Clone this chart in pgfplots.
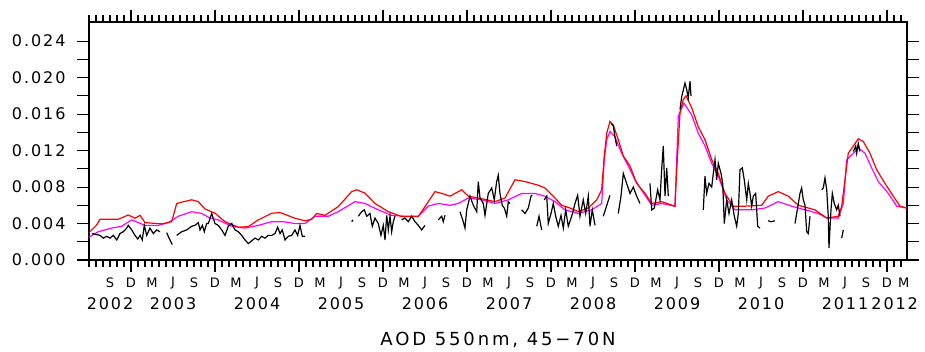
\documentclass[border=0pt]{standalone}
\usepackage{pgfplots}
\pgfplotsset{compat=1.18}
\usepackage{fontspec}
\setmainfont{DejaVu Sans}[LetterSpace=12]
\definecolor{mag}{RGB}{255,0,255}
\definecolor{rd}{RGB}{255,0,0}
\begin{document}
\begin{tikzpicture}
\begin{axis}[name=ax, at={(0,0)}, anchor=south west,
 scale only axis, width=818pt, height=238pt,
 xmin=5, xmax=121.86, ymin=0, ymax=0.0261,
 axis line style={line width=1.2pt},
 every tick/.style={black, line width=1.1pt},
 tick align=outside, tick pos=both,
 major tick length=12pt, minor tick length=7pt,
 xtick={11,23,35,47,59,71,83,95,107,119}, xticklabels={},
 minor xtick={5,6,...,121},
 extra x ticks={8,11,14,17,20,23,26,29,32,35,38,41,44,47,50,53,56,59,62,65,68,71,74,77,80,83,86,89,92,95,98,101,104,107,110,113,116,119,121.4},
 extra x tick labels={S,D,M,J,S,D,M,J,S,D,M,J,S,D,M,J,S,D,M,J,S,D,M,J,S,D,M,J,S,D,M,J,S,D,M,J,S,D,M},
 extra x tick style={major tick length=0pt, xticklabel style={font=\fontsize{13}{14}\selectfont, anchor=center, yshift=-23pt}},
 ytick={0,0.002,0.004,0.006,0.008,0.010,0.012,0.014,0.016,0.018,0.020,0.022,0.024},
 yticklabels={{0.000},{},{0.004},{},{0.008},{},{0.012},{},{0.016},{},{0.020},{},{0.024}},
 yticklabel style={font=\fontsize{16}{18}\selectfont, anchor=east, xshift=-8pt},
 scaled y ticks=false,
 clip=false,
 unbounded coords=jump,
]
% magenta
\addplot[mag, line width=1.2pt] coordinates {
(5.0,0.0025) (6.33,0.0031) (8.24,0.0035) (9.67,0.0037) (11.1,0.0044) (13.0,0.0038) (14.9,0.0038) (16.33,0.0041) (17.76,0.0048) (19.67,0.0053) (21.1,0.0051) (22.29,0.0046) (23.47,0.0044) (25.39,0.0037) (27.29,0.0035) (29.19,0.0038) (31.1,0.0042) (32.76,0.0042) (34.43,0.0040) (35.86,0.0040) (37.29,0.0048) (39.19,0.0048) (40.61,0.0053) (43.0,0.0064) (44.43,0.0062) (46.33,0.0055) (48.24,0.0049) (50.14,0.0048) (52.04,0.0048) (53.47,0.0059) (54.9,0.0062) (56.57,0.0060) (57.76,0.0062) (59.19,0.0068) (61.1,0.0066) (63.0,0.0062) (64.9,0.0066) (66.81,0.0073) (68.71,0.0073) (70.14,0.0070) (71.57,0.0064) (73.0,0.0055) (74.9,0.0051) (76.81,0.0055) (78.24,0.0062) (78.61,0.0110) (78.96,0.0132) (79.43,0.0141) (80.14,0.0135) (81.1,0.0117) (82.04,0.0103) (83.0,0.0088) (84.43,0.0071) (85.39,0.0060) (86.81,0.0062) (88.71,0.0059) (89.19,0.0158) (89.99,0.0172) (91.1,0.0159) (92.04,0.0139) (93.0,0.0125) (93.96,0.0106) (94.9,0.0092) (96.1,0.0066) (97.29,0.0055) (99.67,0.0055) (101.57,0.0057) (103.47,0.0064) (105.39,0.0059) (107.29,0.0055) (109.19,0.0051) (110.39,0.0046) (112.04,0.0046) (112.76,0.0062) (113.24,0.0110) (114.19,0.0117) (114.9,0.0123) (115.86,0.0117) (116.81,0.0101) (117.76,0.0086) (119.19,0.0073) (120.39,0.0059) (121.81,0.0057)
};
% red
\addplot[rd, line width=1.2pt] coordinates {
(5.0,0.0030) (6.10,0.00385) (6.57,0.00447) (9.19,0.00447) (10.61,0.00494) (11.57,0.00458) (12.29,0.0049) (13.0,0.0041) (15.39,0.00396) (16.81,0.0042) (17.53,0.0062) (18.24,0.00634) (19.67,0.0066) (20.61,0.0064) (21.57,0.0056) (23.0,0.00513) (24.43,0.0042) (26.33,0.0036) (27.76,0.00366) (29.19,0.0044) (31.1,0.00513) (32.29,0.0052) (33.0,0.0050) (34.43,0.00458) (35.86,0.0043) (36.81,0.00447) (37.53,0.0051) (38.71,0.0049) (40.61,0.00586) (42.53,0.0075) (43.24,0.0077) (44.43,0.00733) (45.86,0.0062) (47.76,0.0053) (49.67,0.00476) (52.04,0.00476) (53.0,0.00586) (54.43,0.0075) (55.39,0.0073) (56.57,0.0070) (57.29,0.0073) (58.24,0.0077) (59.19,0.0070) (60.61,0.0068) (63.0,0.0064) (64.43,0.0068) (65.86,0.0088) (67.29,0.0086) (69.19,0.0082) (70.14,0.0079) (71.57,0.0068) (72.53,0.0060) (73.71,0.0057) (74.9,0.0053) (76.33,0.0057) (77.53,0.0066) (78.24,0.0077) (78.61,0.0114) (78.96,0.0139) (79.43,0.0152) (79.9,0.0148) (80.61,0.0132) (81.33,0.0114) (82.29,0.0103) (83.24,0.0084) (84.43,0.0073) (85.39,0.0062) (86.81,0.0064) (88.71,0.0059) (88.96,0.0099) (89.43,0.0161) (89.9,0.0176) (90.29,0.0180) (91.1,0.0167) (92.04,0.0146) (93.0,0.0132) (93.96,0.0110) (94.9,0.0095) (95.86,0.0073) (97.04,0.0059) (98.71,0.0059) (101.1,0.0060) (102.04,0.0070) (103.47,0.0075) (104.9,0.0070) (106.33,0.0060) (107.76,0.0057) (108.71,0.0055) (110.39,0.0046) (112.04,0.0048) (112.53,0.0059) (113.0,0.0088) (113.47,0.0117) (114.19,0.0125) (114.9,0.0133) (115.61,0.0130) (116.57,0.0117) (117.53,0.0099) (118.71,0.0084) (119.9,0.0070) (120.86,0.0059) (121.81,0.0057)
};
% black (observations)
\addplot[black, line width=1.2pt] coordinates {
(5.43,0.0029) (6.57,0.0027) (7.04,0.0024) (7.53,0.0026) (8.0,0.0024) (8.47,0.0027) (8.96,0.0022) (9.43,0.0029) (9.9,0.0031) (10.39,0.0035) (10.61,0.0038) (11.1,0.0033) (11.57,0.0027) (11.96,0.0023) (12.29,0.0027) (12.61,0.0022) (12.9,0.0038) (13.24,0.0027) (13.71,0.0035) (14.19,0.0029) (14.67,0.0033) (15.14,0.0031) (15.5,nan)
(16.1,0.0030) (16.43,0.0024) (16.9,0.0017) (17.2,nan)
(17.53,0.0027) (18.24,0.0031) (18.96,0.0033) (19.67,0.0037) (20.14,0.0038) (20.61,0.0041) (20.86,0.0033) (21.19,0.0038) (21.47,0.0031) (21.81,0.0040) (22.04,0.0040) (22.53,0.0051) (23.0,0.0040) (23.47,0.0038) (23.96,0.0033) (24.43,0.0027) (24.9,0.0037) (25.39,0.0040) (25.86,0.0033) (26.33,0.0031) (26.81,0.0027) (27.29,0.0022) (27.76,0.0018) (28.24,0.0021) (28.71,0.0024) (29.19,0.0022) (29.67,0.0026) (30.14,0.0024) (30.61,0.0027) (31.1,0.0027) (31.57,0.0029) (31.96,0.0036) (32.29,0.0029) (32.61,0.0033) (33.0,0.0022) (33.47,0.0026) (33.96,0.0027) (34.43,0.0033) (34.81,0.0027) (35.14,0.0038) (35.47,0.0026) (35.86,0.0026) (36.5,nan)
(42.53,0.0042) (42.71,0.0044) (43.0,nan)
(43.47,0.0048) (43.96,0.0053) (44.33,0.0055) (44.67,0.0048) (45.14,0.0051) (45.47,0.0037) (45.86,0.0046) (46.33,0.0040) (46.71,0.0027) (47.04,0.0038) (47.29,0.0022) (47.53,0.0049) (47.76,0.0033) (48.0,0.0048) (48.24,0.0031) (48.47,0.0042) (48.71,0.0048) (49.2,nan)
(49.67,0.0044) (50.14,0.0046) (50.61,0.0042) (51.1,0.0048) (51.57,0.0042) (52.04,0.0038) (52.53,0.0033) (53.0,0.0038) (53.5,nan)
(54.9,0.0044) (55.39,0.0048) (55.61,0.0042) (55.86,0.0049) (56.5,nan)
(58.0,0.0053) (58.47,0.0042) (58.71,0.0035) (58.96,0.0055) (59.43,0.0070) (59.9,0.0060) (60.39,0.0053) (60.61,0.0086) (60.86,0.0068) (61.33,0.0062) (61.57,0.0049) (62.04,0.0073) (62.53,0.0079) (62.9,0.0066) (63.24,0.0086) (63.47,0.0093) (63.71,0.0073) (64.04,0.0060) (64.33,0.0057) (64.67,0.0048) (64.9,0.0064) (65.14,0.0062) (65.5,nan)
(66.81,0.0055) (67.29,0.0051) (67.76,0.0057) (68.14,0.0070) (68.33,0.0071) (68.6,nan)
(68.96,0.0037) (69.29,0.0048) (69.67,0.0033) (69.85,nan)
(70.04,0.0066) (70.39,0.0070) (70.61,0.0040) (71.0,0.0051) (71.33,0.0062) (71.67,0.0048) (72.04,0.0037) (72.43,0.0049) (72.76,0.0035) (73.1,0.0055) (73.47,0.0037) (73.96,0.0048) (74.43,0.0062) (74.81,0.0071) (75.14,0.0048) (75.61,0.0066) (75.96,0.0051) (76.33,0.0070) (76.57,0.0037) (76.9,0.0055) (77.29,0.0038) (77.8,nan)
(78.47,0.0048) (79.43,0.0071) (79.5,nan)
(79.57,0.0150) (79.9,0.0147) (80.14,0.0135) (80.39,0.0125) (80.5,nan)
(80.61,0.0051) (81.0,0.0070) (81.33,0.0095) (81.81,0.0084) (82.29,0.0073) (82.76,0.0080) (83.24,0.0070) (83.71,0.0062) (84.2,nan)
(85.14,0.0084) (85.39,0.0055) (85.76,0.0057) (86.24,0.0077) (86.57,0.0066) (86.81,0.0099) (87.04,0.0125) (87.29,0.0070) (87.53,0.0101) (87.76,0.0070) (88.2,nan)
(89.43,0.0165) (89.67,0.0179) (90.14,0.0194) (90.38,0.0187) (90.61,0.0178) (90.86,0.0196) (91.0,0.0180) (91.5,nan)
(92.76,0.0055) (93.0,0.0092) (93.24,0.0073) (93.57,0.0084) (93.96,0.0080) (94.19,0.0095) (94.43,0.0110) (94.67,0.0088) (94.9,0.0106) (95.29,0.0095) (95.53,0.0084) (95.76,0.0040) (96.1,0.0066) (96.43,0.0051) (96.81,0.0066) (97.19,0.0048) (97.53,0.0037) (97.76,0.0051) (98.0,0.0099) (98.33,0.0101) (98.61,0.0088) (98.96,0.0066) (99.19,0.0084) (99.43,0.0073) (99.67,0.0059) (99.9,0.0070) (100.24,0.0073) (100.53,0.0037) (100.86,0.0035) (101.3,nan)
(102.0,0.0043) (102.43,0.0042) (103.0,0.0043) (103.5,nan)
(105.86,0.0040) (106.1,0.0051) (106.57,0.0073) (106.81,0.0079) (107.04,0.0066) (107.29,0.0060) (107.53,0.0031) (107.76,0.0029) (108.0,0.0048) (108.5,nan)
(109.67,0.0077) (109.9,0.0079) (110.14,0.0090) (110.39,0.0077) (110.61,0.0048) (110.71,0.0013) (111.0,0.0055) (111.19,0.0073) (111.47,0.0062) (111.81,0.0055) (112.04,0.0060) (112.29,0.0048) (112.4,nan)
(112.53,0.0024) (112.76,0.0033) (113.5,nan)
(114.19,0.0119) (114.53,0.0125) (114.67,0.0117) (114.9,0.0128) (115.14,0.0119)
};
\coordinate (y2002) at (axis cs:8,0);
\coordinate (y2003) at (axis cs:17,0);
\coordinate (y2004) at (axis cs:29,0);
\coordinate (y2005) at (axis cs:41,0);
\coordinate (y2006) at (axis cs:53,0);
\coordinate (y2007) at (axis cs:65,0);
\coordinate (y2008) at (axis cs:77,0);
\coordinate (y2009) at (axis cs:89,0);
\coordinate (y2010) at (axis cs:101,0);
\coordinate (y2011) at (axis cs:113,0);
\coordinate (y2012) at (axis cs:120.1,0);
\end{axis}
\foreach \yr in {2002,2003,2004,2005,2006,2007,2008,2009,2010,2011,2012}{
  \node[font=\fontsize{16}{18}\selectfont, anchor=center, inner sep=0pt] at ([yshift=-44pt]y\yr) {\yr};
}
\node[font=\fontsize{18}{20}\selectfont\addfontfeatures{LetterSpace=16}, anchor=center, inner sep=0pt] at ([yshift=-80pt]ax.south) {AOD 550nm, 45−70N};
\pgfresetboundingbox
\path[use as bounding box] ([shift={(-89pt,-91pt)}]ax.south west) rectangle ([shift={(18pt,22pt)}]ax.north east);
\end{tikzpicture}
\end{document}
